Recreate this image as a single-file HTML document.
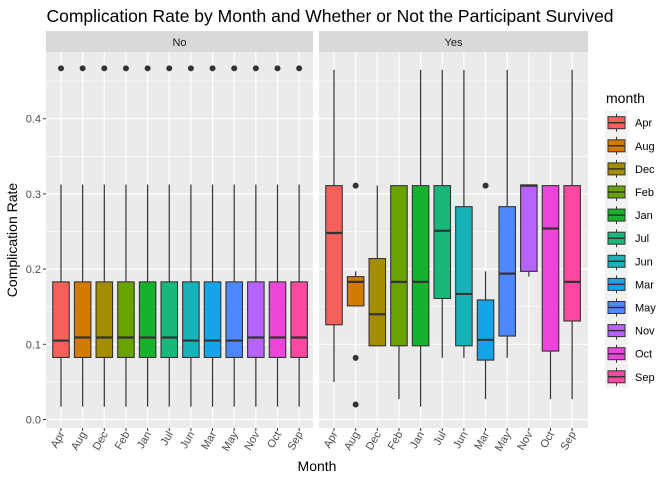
<!DOCTYPE html>
<html><head><meta charset="utf-8"><style>
body{margin:0;background:#fff;}
svg text{font-family:"Liberation Sans",sans-serif;}
</style></head><body>
<svg id="c" width="672" height="480" xmlns="http://www.w3.org/2000/svg">
<text x="330" y="22" font-size="17.5" text-anchor="middle" fill="#000">Complication Rate by Month and Whether or Not the Participant Survived</text>
<text transform="translate(17,240) rotate(-90)" font-size="14" text-anchor="middle">Complication Rate</text>
<text x="317" y="471" font-size="14" text-anchor="middle">Month</text>
<g id="g"></g>
</svg>
<script>
const months=["Apr","Aug","Dec","Feb","Jan","Jul","Jun","Mar","May","Nov","Oct","Sep"];
const colors=["#F5605A","#D57A00","#A38D00","#6AA200","#16B12D","#18B87A","#17B3B8","#15A4E8","#4F87FF","#B763FF","#EC45D9","#FB48A1"];
const yTicks=[0,0.1,0.2,0.3,0.4];
const yTickLabels=["0.0","0.1","0.2","0.3","0.4"];
const panels=["No","Yes"];
// No panel: [low, q1, median, q3, high]
const noStats=[
[0.017,0.0825,0.105,0.183,0.3125],[0.017,0.0825,0.109,0.183,0.3125],[0.017,0.0825,0.109,0.183,0.3125],
[0.017,0.0825,0.109,0.183,0.3125],[0.017,0.0825,0.109,0.183,0.3125],[0.017,0.0825,0.109,0.183,0.3125],
[0.017,0.0825,0.105,0.183,0.3125],[0.017,0.0825,0.105,0.183,0.3125],[0.017,0.0825,0.105,0.183,0.3125],
[0.017,0.0825,0.109,0.183,0.3125],[0.017,0.0825,0.109,0.183,0.3125],[0.017,0.0825,0.109,0.183,0.3125]];
const noOutliers=[[0.467],[0.467],[0.467],[0.467],[0.467],[0.467],[0.467],[0.467],[0.467],[0.467],[0.467],[0.467]];
const yesStats=[
[0.050,0.126,0.248,0.311,0.465],[0.151,0.151,0.183,0.190,0.197],[0.098,0.098,0.140,0.214,0.311],
[0.027,0.098,0.183,0.311,0.311],[0.017,0.098,0.183,0.311,0.465],[0.082,0.161,0.251,0.311,0.465],
[0.082,0.098,0.167,0.283,0.465],[0.027,0.079,0.106,0.159,0.197],[0.082,0.111,0.194,0.283,0.465],
[0.190,0.197,0.311,0.312,0.312],[0.027,0.091,0.254,0.311,0.311],[0.027,0.131,0.183,0.311,0.465]];
const yesOutliers=[[],[0.311,0.082,0.020],[],[],[],[],[],[0.311],[],[],[],[]];

const NS="http://www.w3.org/2000/svg";
const g=document.getElementById('g');
function el(t,a,p){const e=document.createElementNS(NS,t);for(const k in a)e.setAttribute(k,a[k]);(p||g).appendChild(e);return e;}
const y0=419.5, yk=752;
function y(v){return y0-yk*v;}
const panelX=[[46,313],[319,588]];
const pTop=52,pBot=428;
function x(pi,i){return panelX[pi][0]+15+i*21.65;}

panels.forEach((name,pi)=>{
  const [L,R]=panelX[pi];
  const bg=el('rect',{x:L,y:pTop,width:R-L,height:pBot-pTop,fill:'#EBEBEB'});
  
  
  const st=el('rect',{x:L,y:31,width:R-L,height:21,fill:'#D9D9D9'});
  
  
  const stt=el('text',{x:(L+R)/2,y:46,'font-size':11,'text-anchor':'middle',fill:'#1A1A1A'});
  stt.textContent=name;
  
  
  for(let i=0;i<yTicks.length-1;i++){
    const m=(yTicks[i]+yTicks[i+1])/2;
    el('line',{x1:L,x2:R,y1:y(m),y2:y(m),stroke:'#fff','stroke-width':0.6});
  }
  el('line',{x1:L,x2:R,y1:y(0.45),y2:y(0.45),stroke:'#fff','stroke-width':0.6});
  yTicks.forEach(v=>el('line',{x1:L,x2:R,y1:y(v),y2:y(v),stroke:'#fff','stroke-width':1.2}));
  months.forEach((m,i)=>{
    const cx=x(pi,i);
    el('line',{x1:cx,x2:cx,y1:pTop,y2:pBot,stroke:'#fff','stroke-width':1.2});
    el('line',{x1:cx,x2:cx,y1:pBot,y2:pBot+3,stroke:'#333','stroke-width':1});
    const t=el('text',{transform:`translate(${cx+4},${pBot+6}) rotate(-60)`,'font-size':11,'text-anchor':'end',fill:'#4D4D4D'});
    t.textContent=m;
    
    
  });
  const stats=pi==0?noStats:yesStats, outs=pi==0?noOutliers:yesOutliers;
  months.forEach((m,i)=>{
    const s=stats[i],cx=x(pi,i),w=16.5;
    const bx=el('g',{});
    
    
    el('line',{x1:cx,x2:cx,y1:y(s[4]),y2:y(s[3]),stroke:'#333','stroke-width':1.2},bx);
    el('line',{x1:cx,x2:cx,y1:y(s[1]),y2:y(s[0]),stroke:'#333','stroke-width':1.2},bx);
    el('rect',{x:cx-w/2,y:y(s[3]),width:w,height:Math.max(0.5,y(s[1])-y(s[3])),fill:colors[i],stroke:'#333','stroke-width':1.1},bx);
    el('line',{x1:cx-w/2,x2:cx+w/2,y1:y(s[2]),y2:y(s[2]),stroke:'#333','stroke-width':2.2},bx);
    outs[i].forEach(v=>{
      const c=el('circle',{cx:cx,cy:y(v),r:3,fill:'#333'});
      
      
    });
  });
});
yTicks.forEach((v,i)=>{
  el('line',{x1:43,x2:46,y1:y(v),y2:y(v),stroke:'#333','stroke-width':1});
  const t=el('text',{x:41,y:y(v)+4,'font-size':11,'text-anchor':'end',fill:'#4D4D4D'});
  t.textContent=yTickLabels[i];
  
  
});
// legend
const lg=el('g',{});


const lt=el('text',{x:606,y:103,'font-size':14,fill:'#000'},lg);
lt.textContent='month';


el('rect',{x:605,y:111,width:23,height:277,fill:'#F2F2F2'},lg);
months.forEach((m,i)=>{
  const cy=122.7+i*23.1;
  const e=el('g',{},lg);
  
  
  el('line',{x1:616.5,x2:616.5,y1:cy-9,y2:cy+9,stroke:'#333','stroke-width':1},e);
  el('rect',{x:608,y:cy-6,width:17,height:12,fill:colors[i],stroke:'#333','stroke-width':1},e);
  el('line',{x1:608,x2:625,y1:cy,y2:cy,stroke:'#333','stroke-width':1.5},e);
  const t=el('text',{x:635,y:cy+4,'font-size':11,fill:'#000'},e);
  t.textContent=m;
});
</script>
</body></html>
